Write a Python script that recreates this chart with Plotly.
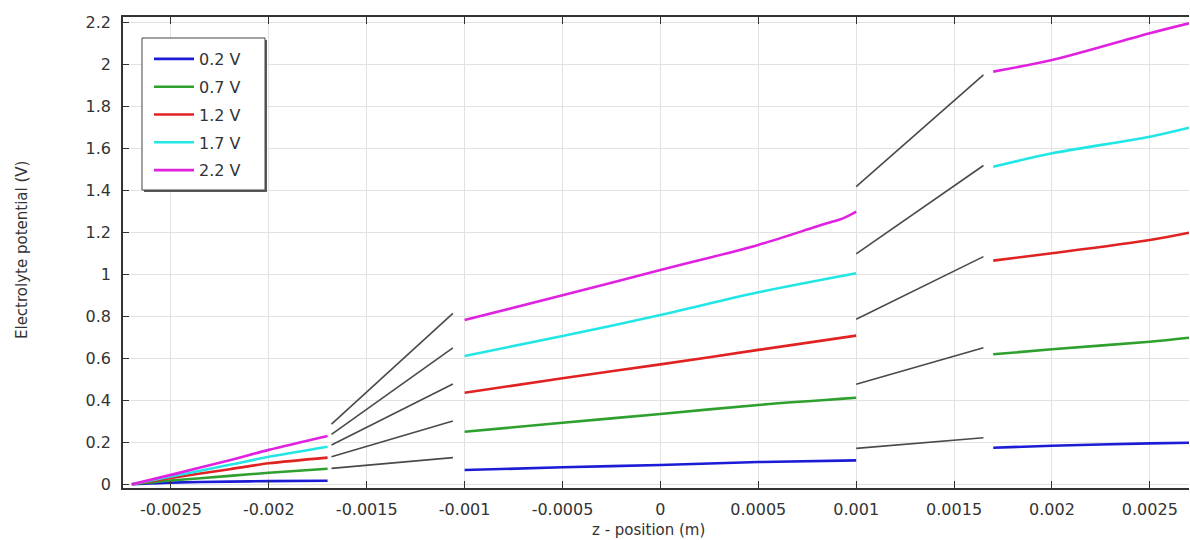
import plotly.graph_objects as go

# ---------------- data ----------------
labels = ["0.2 V", "0.7 V", "1.2 V", "1.7 V", "2.2 V"]
colors = ["#1c1cd6", "#2ea02e", "#e02222", "#22e6e6", "#e022e0"]

# region A (colored)
xa = [-0.0027, -0.0025, -0.0022, -0.002, -0.0017]
ya_02 = [0.0, 0.008, 0.013, 0.015, 0.017]
ya_07 = [0.0, 0.018, 0.040, 0.055, 0.074]
ya_12 = [0.0, 0.030, 0.072, 0.100, 0.127]
ya_17 = [0.0, 0.037, 0.093, 0.131, 0.179]
ya_22 = [0.0, 0.045, 0.115, 0.164, 0.230]

# region B (gray, separator)
xb = [-0.00168, -0.00106]
yb_start = [0.076, 0.131, 0.187, 0.238, 0.287]
yb_end = [0.127, 0.301, 0.478, 0.650, 0.814]

# region C (colored)
xc = [-0.001, -0.0005, 0.0, 0.0005, 0.001]
yc_02 = [0.068, 0.081, 0.092, 0.106, 0.114]
yc_07 = [0.250, 0.293, 0.335, 0.378, 0.412]
yc_12 = [0.436, 0.505, 0.571, 0.640, 0.708]
yc_17 = [0.611, 0.706, 0.806, 0.914, 1.005]
xc_22 = [-0.001, -0.0005, 0.0, 0.0005, 0.00077, 0.00085, 0.00092, 0.00097, 0.001]
yc_22 = [0.782, 0.900, 1.020, 1.140, 1.219, 1.243, 1.262, 1.283, 1.298]

# region D (gray, separator)
xd = [0.001, 0.00165]
yd_start = [0.171, 0.476, 0.786, 1.097, 1.417]
yd_end = [0.222, 0.650, 1.084, 1.518, 1.949]

# region E (colored)
xe = [0.0017, 0.002, 0.0025, 0.0027]
ye_02 = [0.174, 0.184, 0.195, 0.198]
ye_07 = [0.619, 0.643, 0.679, 0.698]
ye_12 = [1.065, 1.100, 1.163, 1.198]
ye_17 = [1.512, 1.576, 1.655, 1.698]
ye_22 = [1.965, 2.020, 2.148, 2.195]

x_ticks = [-0.0025, -0.002, -0.0015, -0.001, -0.0005, 0, 0.0005, 0.001, 0.0015, 0.002, 0.0025]
x_ticktext = ["-0.0025", "-0.002", "-0.0015", "-0.001", "-0.0005", "0", "0.0005", "0.001", "0.0015", "0.002", "0.0025"]
y_ticks = [0, 0.2, 0.4, 0.6, 0.8, 1, 1.2, 1.4, 1.6, 1.8, 2, 2.2]
y_ticktext = ["0", "0.2", "0.4", "0.6", "0.8", "1", "1.2", "1.4", "1.6", "1.8", "2", "2.2"]

x_title = "z - position (m)"
y_title = "Electrolyte potential (V)"

# ---------------- figure ----------------
FONT = "DejaVu Sans"
TXT = "#333333"
GRAY = "#4a4a4a"

fig = go.Figure()

# gray separator lines
for i in range(5):
    fig.add_trace(go.Scatter(x=xb, y=[yb_start[i], yb_end[i]], mode="lines",
                             line=dict(color=GRAY, width=1.6), showlegend=False, hoverinfo="skip"))
    fig.add_trace(go.Scatter(x=xd, y=[yd_start[i], yd_end[i]], mode="lines",
                             line=dict(color=GRAY, width=1.6), showlegend=False, hoverinfo="skip"))

series = [
    (xa, ya_02, xc, yc_02, xe, ye_02),
    (xa, ya_07, xc, yc_07, xe, ye_07),
    (xa, ya_12, xc, yc_12, xe, ye_12),
    (xa, ya_17, xc, yc_17, xe, ye_17),
    (xa, ya_22, xc_22, yc_22, xe, ye_22),
]

for i, (x1, y1, x2, y2, x3, y3) in enumerate(series):
    grp = labels[i]
    for k, (xx, yy) in enumerate([(x1, y1), (x2, y2), (x3, y3)]):
        fig.add_trace(go.Scatter(
            x=xx, y=yy, mode="lines",
            line=dict(color=colors[i], width=2.6, shape="spline", smoothing=0.8),
            name=grp, legendgroup=grp, showlegend=(k == 0),
        ))

W, H = 1190, 540
ml, mr, mt, mb = 123, 1, 17, 52
pw, ph = W - ml - mr, H - mt - mb


def px(xp):
    return (xp - ml) / pw


def py(yp):
    return (H - mb - yp) / ph


# legend frame (shadow + box) drawn as shapes, legend itself transparent
fig.add_shape(type="rect", xref="paper", yref="paper",
              x0=px(144), x1=px(267), y0=py(192), y1=py(40),
              fillcolor="#5a5a5a", line=dict(width=0), layer="above")
fig.add_shape(type="rect", xref="paper", yref="paper",
              x0=px(142), x1=px(265), y0=py(190), y1=py(38),
              fillcolor="white", line=dict(color="#444444", width=1), layer="above")

fig.add_annotation(text=y_title, xref="paper", yref="paper", x=px(22), y=py(250),
                   textangle=-90, showarrow=False, xanchor="center", yanchor="middle",
                   font=dict(family=FONT, size=15, color=TXT))
fig.add_annotation(text=x_title, xref="paper", yref="paper", x=px(648), y=py(530),
                   showarrow=False, xanchor="center", yanchor="middle",
                   font=dict(family=FONT, size=15, color=TXT))

fig.update_layout(
    width=W, height=H,
    margin=dict(l=ml, r=mr, t=mt, b=mb, autoexpand=False),
    paper_bgcolor="white", plot_bgcolor="white",
    font=dict(family=FONT, size=16, color=TXT),
    legend=dict(x=px(149), y=py(42), xanchor="left", yanchor="top",
                bgcolor="rgba(0,0,0,0)", borderwidth=0,
                font=dict(family=FONT, size=16, color=TXT),
                tracegroupgap=4, itemwidth=40),
    xaxis=dict(range=[-0.002745, 0.0027], tickvals=x_ticks, ticktext=x_ticktext,
               showgrid=True, gridcolor="#e2e2e2", gridwidth=1, zeroline=False,
               showline=True, linecolor="#333333", linewidth=1.5, mirror="ticks",
               ticks="inside", ticklen=7, tickcolor="#333333", automargin=False,
               ticklabelstandoff=6, tickfont=dict(size=16)),
    yaxis=dict(range=[-0.0175, 2.225], tickvals=y_ticks, ticktext=y_ticktext,
               showgrid=True, gridcolor="#e2e2e2", gridwidth=1, zeroline=False,
               showline=True, linecolor="#333333", linewidth=1.5,
               ticks="inside", ticklen=6, tickcolor="#333333", automargin=False,
               ticklabelstandoff=7, tickfont=dict(size=16)),
)

fig.write_html(
    "out.html",
    config={"displayModeBar": False},
    post_script="document.body.style.margin='0';document.body.style.overflow='hidden';",
)
